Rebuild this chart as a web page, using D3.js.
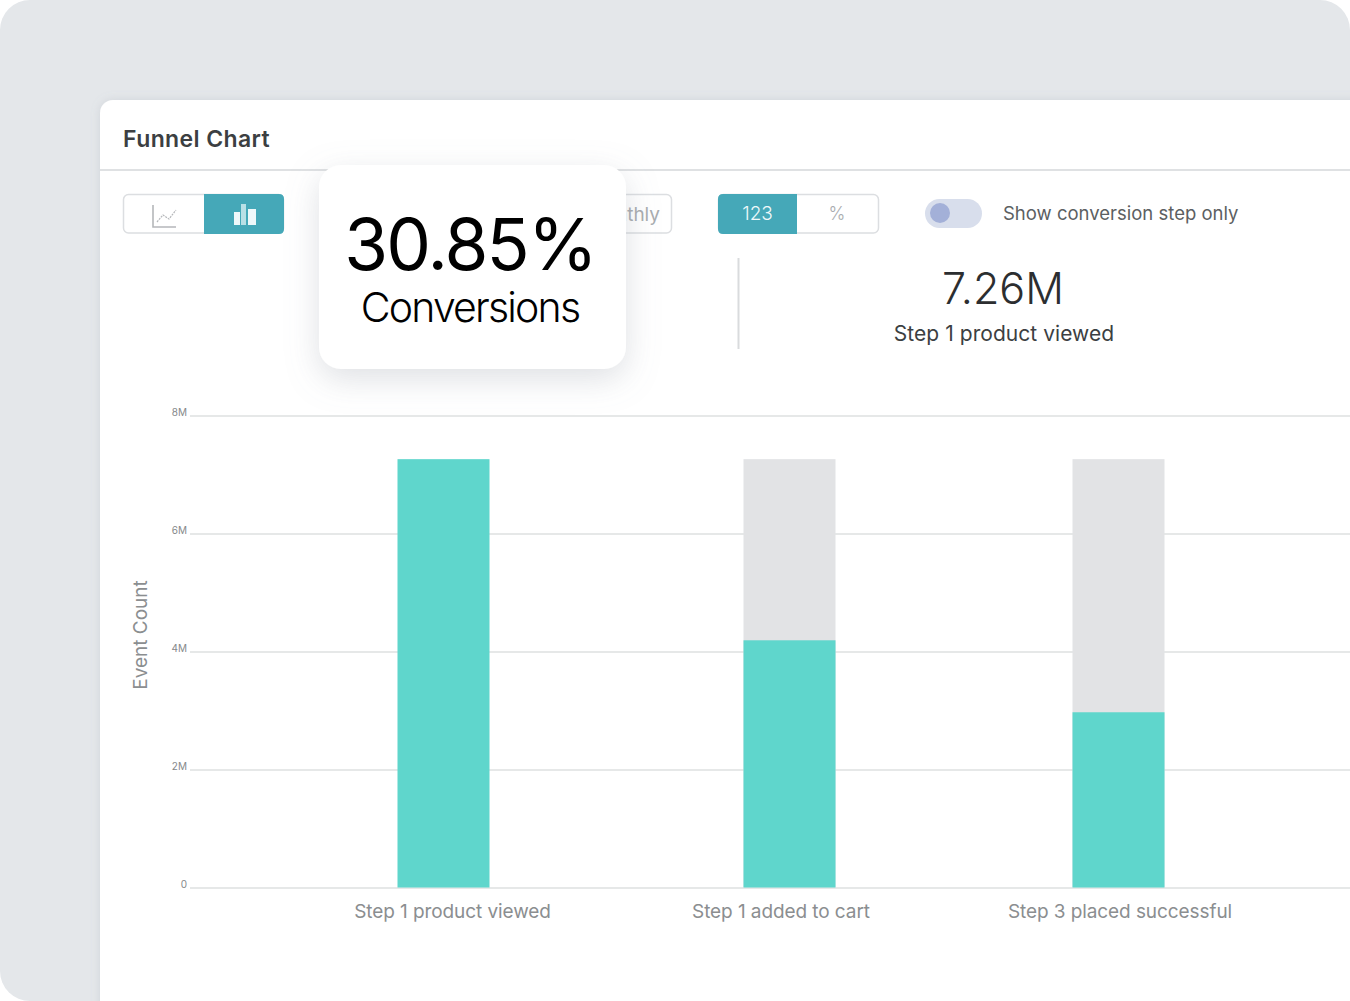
<!DOCTYPE html>
<html>
<head>
<meta charset="utf-8">
<title>Funnel Chart</title>
<script src="https://cdn.jsdelivr.net/npm/d3@7"></script>
<style>
    html, body { margin: 0; padding: 0; background: #fff; overflow: hidden; }
    svg { display: block; font-family: "Inter", "Noto Sans", sans-serif; }
    .y-axis .domain { display: none; }
    .y-axis line { stroke: #e6e8e8; stroke-width: 2; }
    .y-axis text { fill: #85888a; font-size: 10px; font-family: "Inter", sans-serif; }
</style>
</head>
<body>
<svg id="chart" width="1350" height="1001"></svg>
<script>
// данные графика
var steps = ["Step 1 product viewed", "Step 1 added to cart", "Step 3 placed successful"];
var eventCounts = [7260000, 4190000, 2970000];
var totalCounts = [7260000, 7260000, 7260000];
var yTicks = [0, 2000000, 4000000, 6000000, 8000000];
var yTickLabels = ["0", "2M", "4M", "6M", "8M"];
var unitToggle = ["123", "%"];
var rateToggle = ["Monthly"];

var svg = d3.select("#chart");
var defs = svg.append("defs");

// тень всплывающей карточки
var popShadow = defs.append("filter").attr("id", "popShadow")
    .attr("x", "-30%").attr("y", "-30%").attr("width", "160%").attr("height", "170%");
popShadow.append("feDropShadow")
    .attr("dx", 0).attr("dy", 10).attr("stdDeviation", 16)
    .attr("flood-color", "#8a929c").attr("flood-opacity", 0.28);

var panelShadow = defs.append("filter").attr("id", "panelShadow")
    .attr("x", "-5%").attr("y", "-5%").attr("width", "110%").attr("height", "110%");
panelShadow.append("feDropShadow")
    .attr("dx", 0).attr("dy", 0).attr("stdDeviation", 5)
    .attr("flood-color", "#8a929c").attr("flood-opacity", 0.22);

// фон и панель
svg.append("rect").attr("width", 1350).attr("height", 1001).attr("rx", 30).attr("fill", "#e4e7ea");
svg.append("rect").attr("x", 100).attr("y", 100).attr("width", 1290).attr("height", 940).attr("rx", 13)
    .attr("fill", "#fff").attr("filter", "url(#panelShadow)");

svg.append("text").attr("x", 123).attr("y", 147)
    .attr("font-size", 23).attr("font-weight", 600).attr("letter-spacing", 0.4).attr("fill", "#3c3f42")
    .text("Funnel Chart");
svg.append("line").attr("x1", 100).attr("x2", 1350).attr("y1", 170).attr("y2", 170)
    .attr("stroke", "#dfe1e3").attr("stroke-width", 2);

// шкалы
var y = d3.scaleLinear().domain([0, 8000000]).range([887.5, 415.5]);
var x = d3.scaleOrdinal().domain(steps).range([443.5, 789.5, 1118.5]);
var xLabel = d3.scaleOrdinal().domain(steps).range([452.5, 781, 1120]);
var barWidth = 92;

// ось Y с линиями сетки
var yAxis = d3.axisLeft(y)
    .tickValues(yTicks)
    .tickSize(-1160)
    .tickPadding(3)
    .tickFormat(function (d, i) { return yTickLabels[i]; });

svg.append("g")
    .attr("class", "y-axis")
    .attr("transform", "translate(190,0)")
    .call(yAxis)
    .selectAll("text")
    .attr("dy", "0");

svg.append("text")
    .attr("transform", "translate(147,635) rotate(-90)")
    .attr("text-anchor", "middle")
    .attr("font-size", 19).attr("fill", "#8b8e90")
    .text("Event Count");

// столбцы
svg.selectAll(".bar-total")
    .data(steps.slice(1))
    .enter().append("rect")
    .attr("class", "bar-total")
    .attr("x", function (d) { return x(d) - barWidth / 2; })
    .attr("y", function (d) { return y(totalCounts[steps.indexOf(d)]); })
    .attr("width", barWidth)
    .attr("height", function (d) { return y(0) - y(totalCounts[steps.indexOf(d)]); })
    .attr("fill", "#e2e3e5");

svg.selectAll(".bar-count")
    .data(steps)
    .enter().append("rect")
    .attr("class", "bar-count")
    .attr("x", function (d) { return x(d) - barWidth / 2; })
    .attr("y", function (d, i) { return y(eventCounts[i]); })
    .attr("width", barWidth)
    .attr("height", function (d, i) { return y(0) - y(eventCounts[i]); })
    .attr("fill", "#5fd6cc");

svg.selectAll(".step-label")
    .data(steps)
    .enter().append("text")
    .attr("class", "step-label")
    .attr("x", function (d) { return xLabel(d); })
    .attr("y", 918)
    .attr("text-anchor", "middle")
    .attr("font-size", 19).attr("letter-spacing", -0.08).attr("fill", "#8b8e90")
    .text(function (d) { return d; });

// переключатели
function toggleBox(left, width, activeLeft, activeWidth, radius) {
    "use strict";
    svg.append("rect").attr("x", left + 0.5).attr("y", 194.5)
        .attr("width", width - 1).attr("height", 38.5).attr("rx", radius)
        .attr("fill", "#fff").attr("stroke", "#dcdee1").attr("stroke-width", 1.5);
    if (activeWidth > 0) {
        var r = radius;
        var top = 194;
        var bottom = 234;
        var right = activeLeft + activeWidth;
        var path = d3.path();
        if (activeLeft === left) {
            path.moveTo(right, top);
            path.lineTo(activeLeft + r, top);
            path.quadraticCurveTo(activeLeft, top, activeLeft, top + r);
            path.lineTo(activeLeft, bottom - r);
            path.quadraticCurveTo(activeLeft, bottom, activeLeft + r, bottom);
            path.lineTo(right, bottom);
        } else {
            path.moveTo(activeLeft, top);
            path.lineTo(right - r, top);
            path.quadraticCurveTo(right, top, right, top + r);
            path.lineTo(right, bottom - r);
            path.quadraticCurveTo(right, bottom, right - r, bottom);
            path.lineTo(activeLeft, bottom);
        }
        path.closePath();
        svg.append("path").attr("d", path.toString()).attr("fill", "#45a8b8");
    }
}

toggleBox(123, 161, 204, 80, 5);
toggleBox(560, 112, 0, 0, 5);
toggleBox(718, 161, 718, 79, 5);

// значок линии
svg.append("path").attr("d", "M153,205V227H176").attr("fill", "none")
    .attr("stroke", "#b5b7ba").attr("stroke-width", 1.6);
svg.append("path").attr("d", "M157,222L163,215L169,219L176,210").attr("fill", "none")
    .attr("stroke", "#b5b7ba").attr("stroke-width", 1.2).attr("stroke-dasharray", "2 1");

// значок столбцов
svg.append("rect").attr("x", 234).attr("y", 212).attr("width", 6).attr("height", 13).attr("fill", "#eef8fa");
svg.append("rect").attr("x", 241).attr("y", 204).attr("width", 5).attr("height", 21).attr("fill", "#b9e0e6");
svg.append("rect").attr("x", 248).attr("y", 209).attr("width", 8).attr("height", 16).attr("fill", "#eef8fa");

svg.append("text").attr("x", 660).attr("y", 221).attr("text-anchor", "end")
    .attr("font-size", 19).attr("fill", "#a9acaf").text(rateToggle[0]);

svg.append("text").attr("x", 757.5).attr("y", 220).attr("text-anchor", "middle")
    .attr("font-size", 19).attr("font-weight", 300).attr("fill", "#eef8fa").text(unitToggle[0]);
svg.append("text").attr("x", 837).attr("y", 220).attr("text-anchor", "middle")
    .attr("font-size", 18).attr("font-weight", 300).attr("fill", "#a9acaf").text(unitToggle[1]);

// тумблер
svg.append("rect").attr("x", 925).attr("y", 199).attr("width", 57).attr("height", 29).attr("rx", 14.5)
    .attr("fill", "#d8deec");
svg.append("circle").attr("cx", 940).attr("cy", 213).attr("r", 10).attr("fill", "#a3b0d8");
svg.append("text").attr("x", 1003).attr("y", 220)
    .attr("font-size", 18.5).attr("fill", "#5c5f62").text("Show conversion step only");

// сводка
svg.append("line").attr("x1", 738.5).attr("x2", 738.5).attr("y1", 258).attr("y2", 349)
    .attr("stroke", "#d9dbdd").attr("stroke-width", 2);
svg.append("text").attr("x", 1003).attr("y", 304).attr("text-anchor", "middle")
    .attr("font-size", 43).attr("fill", "#2c2e30").attr("font-weight", 300).text("7.26M");
svg.append("text").attr("x", 1004).attr("y", 341).attr("text-anchor", "middle")
    .attr("font-size", 21).attr("letter-spacing", 0.05).attr("fill", "#3c3f42").text("Step 1 product viewed");

// всплывающая карточка
svg.append("rect").attr("x", 319).attr("y", 165).attr("width", 307).attr("height", 204).attr("rx", 22)
    .attr("fill", "#fff").attr("filter", "url(#popShadow)");
svg.append("text").attr("x", 470).attr("y", 270).attr("text-anchor", "middle")
    .attr("font-size", 71).attr("font-weight", 400).attr("letter-spacing", -1.8).attr("fill", "#000").text("30.85%");
svg.append("text").attr("x", 470).attr("y", 322).attr("text-anchor", "middle")
    .attr("font-size", 41).attr("font-weight", 300).attr("letter-spacing", -1.8).attr("fill", "#000").text("Conversions");
</script>
</body>
</html>
